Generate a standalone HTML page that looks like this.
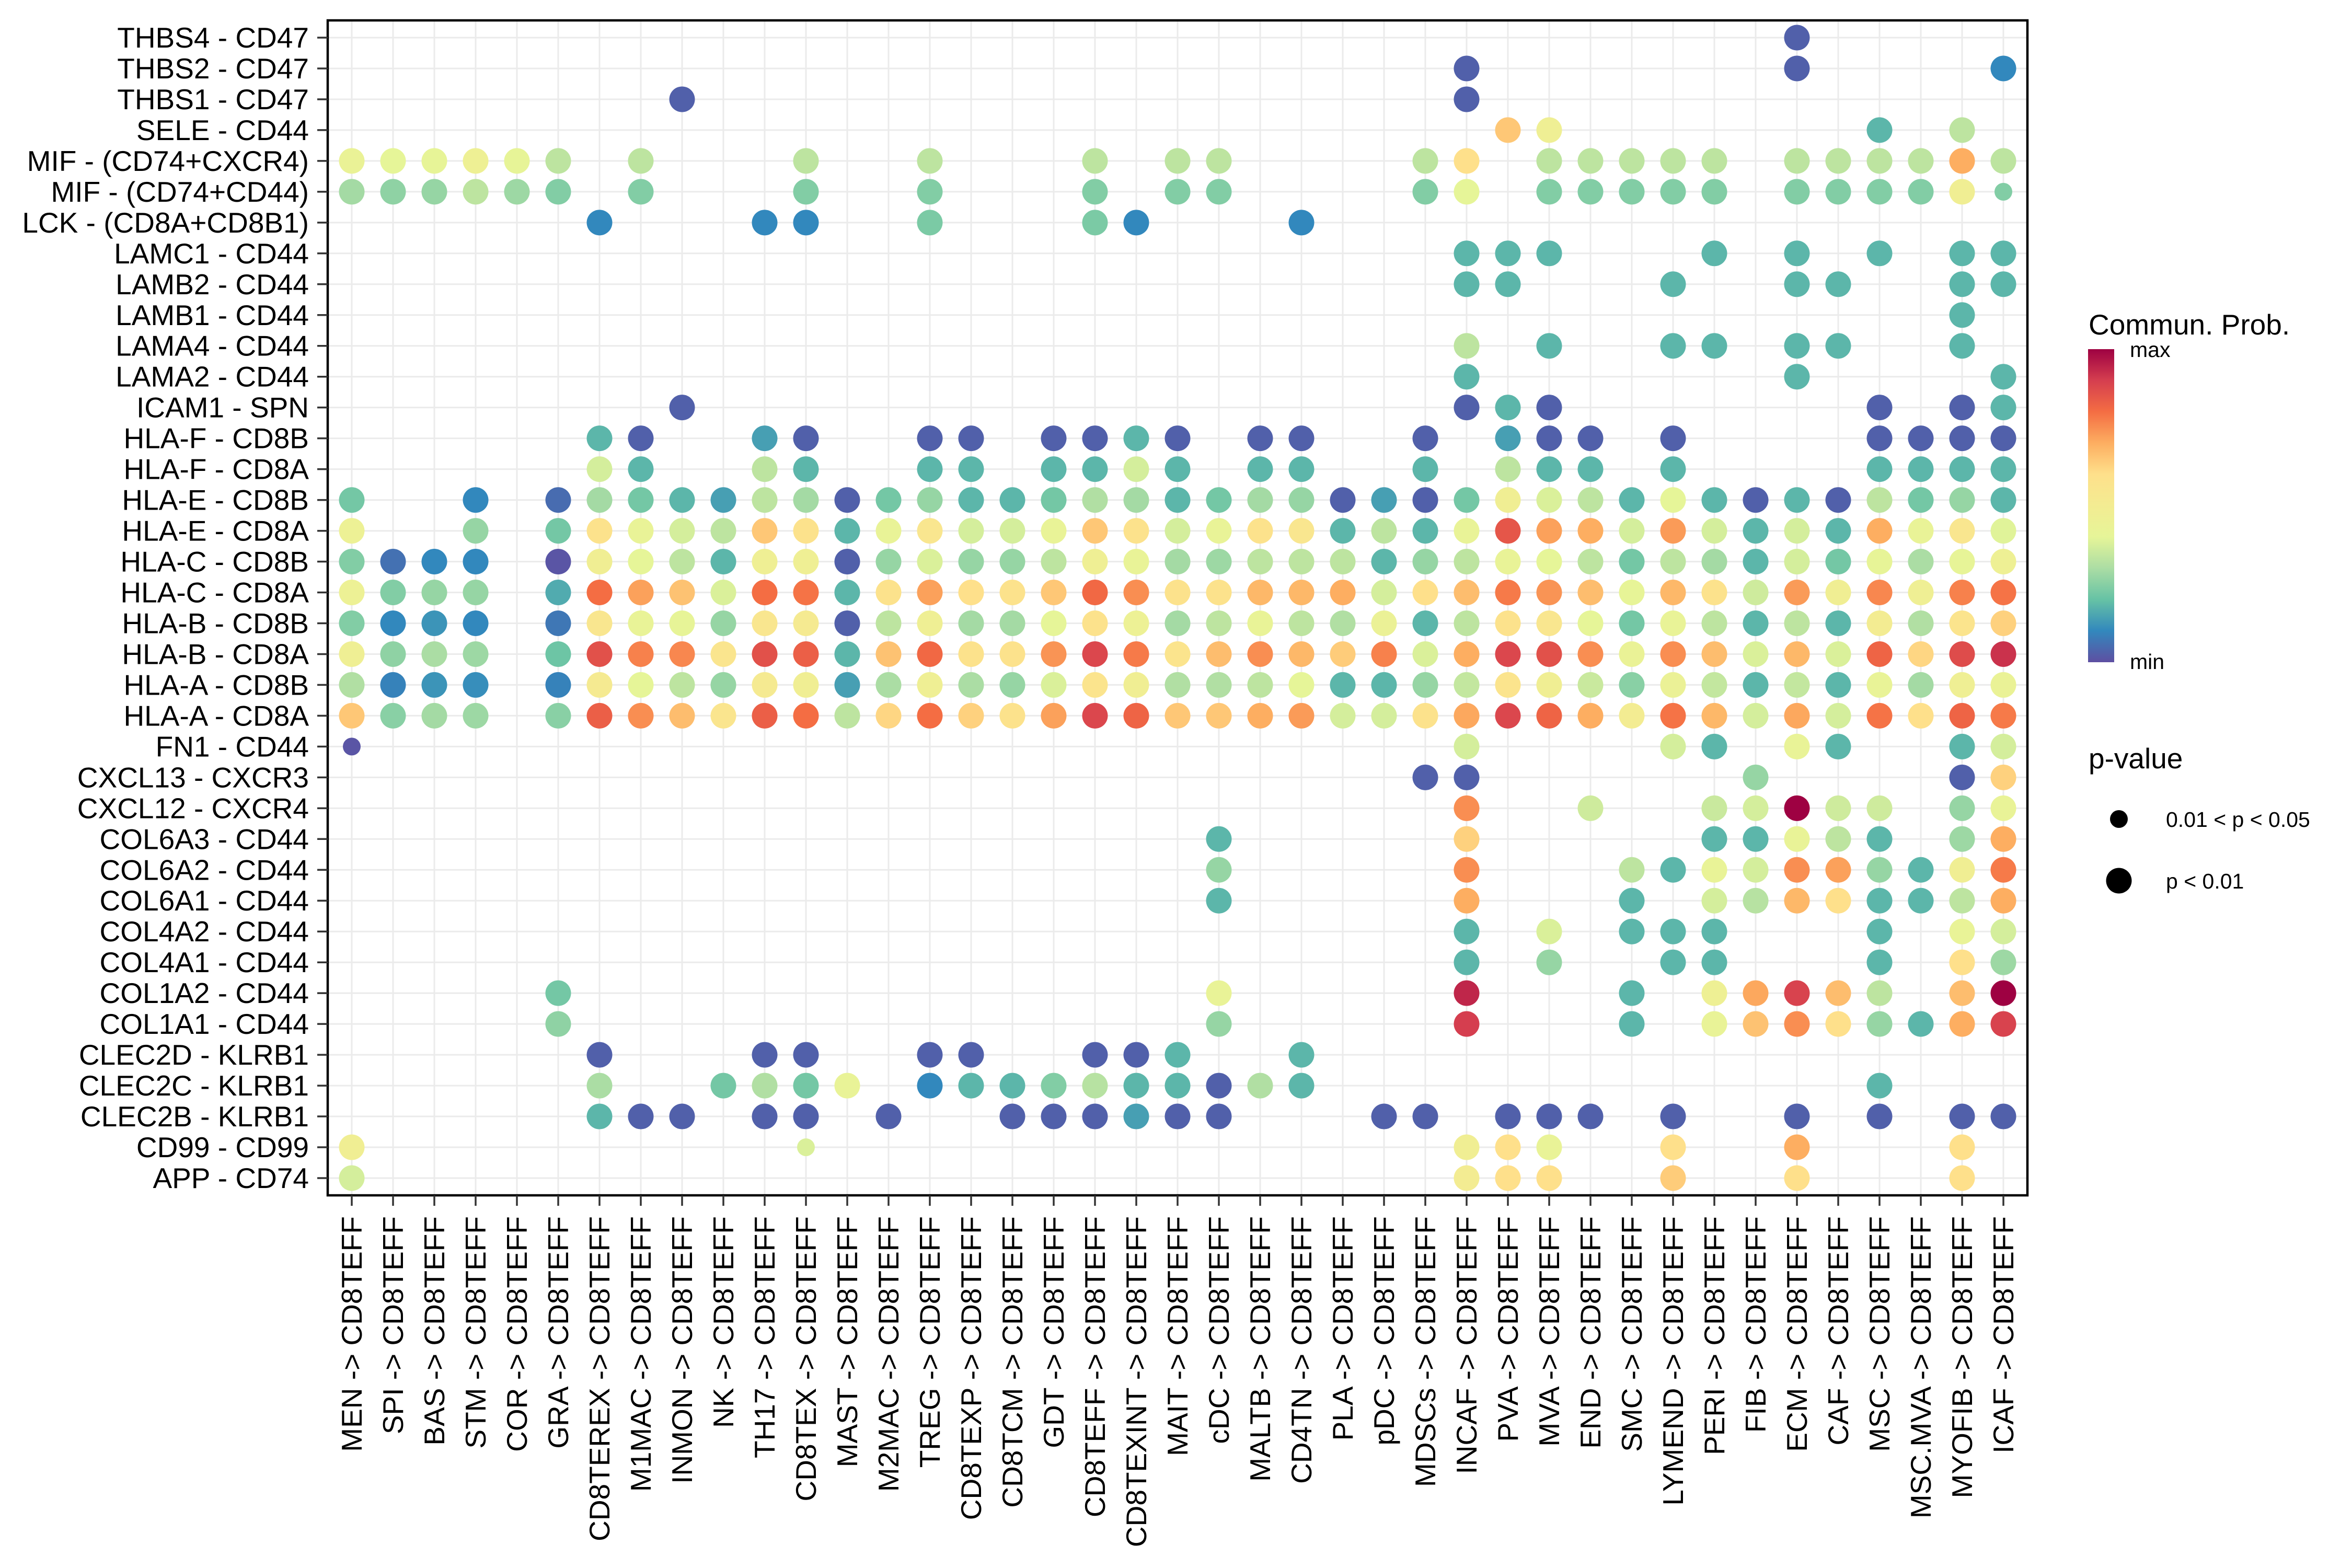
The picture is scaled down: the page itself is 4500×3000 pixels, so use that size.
<!DOCTYPE html>
<html><head><meta charset="utf-8"><style>
html,body{margin:0;padding:0;background:#fff;}
svg{display:block;font-family:"Liberation Sans",Arial,sans-serif;}
</style></head><body>
<svg id="chart" width="4500" height="3000" viewBox="0 0 4500 3000" xmlns="http://www.w3.org/2000/svg">
<defs>
<linearGradient id="cbar" x1="0" y1="1" x2="0" y2="0">
<stop offset="0" stop-color="#5E4FA2"/><stop offset="0.1" stop-color="#3288BD"/><stop offset="0.2" stop-color="#66C2A5"/><stop offset="0.3" stop-color="#ABDDA4"/><stop offset="0.4" stop-color="#E6F598"/><stop offset="0.5" stop-color="#F3EC92"/><stop offset="0.6" stop-color="#FEE08B"/><stop offset="0.7" stop-color="#FDAE61"/><stop offset="0.8" stop-color="#F46D43"/><stop offset="0.9" stop-color="#D53E4F"/><stop offset="1" stop-color="#9E0142"/>
</linearGradient>
</defs>
<rect x="627" y="39" width="3252" height="2248" fill="#fff"/>
<g id="grid"></g>
<g id="dots"></g>
<rect x="627" y="39" width="3252" height="2248" fill="none" stroke="#000" stroke-width="4.5"/>
<g id="yaxis"></g>
<g id="xaxis"></g>
<g>
<text x="3996" y="640" font-size="55">Commun. Prob.</text>
<rect x="3995" y="668" width="50" height="599" fill="url(#cbar)"/>
<text x="4075" y="683" font-size="41">max</text>
<text x="4075" y="1280" font-size="41">min</text>
</g>
<g>
<text x="3996" y="1470" font-size="55">p-value</text>
<circle cx="4054" cy="1567" r="17" fill="#000"/>
<text x="4144" y="1582" font-size="41">0.01 &lt; p &lt; 0.05</text>
<circle cx="4054" cy="1685" r="24.5" fill="#000"/>
<text x="4144" y="1700" font-size="41">p &lt; 0.01</text>
</g>
</svg>
<script>
const sources = ["MEN","SPI","BAS","STM","COR","GRA","CD8TEREX","M1MAC","INMON","NK","TH17","CD8TEX","MAST","M2MAC","TREG","CD8TEXP","CD8TCM","GDT","CD8TEFF","CD8TEXINT","MAIT","cDC","MALTB","CD4TN","PLA","pDC","MDSCs","INCAF","PVA","MVA","END","SMC","LYMEND","PERI","FIB","ECM","CAF","MSC","MSC.MVA","MYOFIB","ICAF"];
const pairs = ["THBS4 - CD47","THBS2 - CD47","THBS1 - CD47","SELE - CD44","MIF - (CD74+CXCR4)","MIF - (CD74+CD44)","LCK - (CD8A+CD8B1)","LAMC1 - CD44","LAMB2 - CD44","LAMB1 - CD44","LAMA4 - CD44","LAMA2 - CD44","ICAM1 - SPN","HLA-F - CD8B","HLA-F - CD8A","HLA-E - CD8B","HLA-E - CD8A","HLA-C - CD8B","HLA-C - CD8A","HLA-B - CD8B","HLA-B - CD8A","HLA-A - CD8B","HLA-A - CD8A","FN1 - CD44","CXCL13 - CXCR3","CXCL12 - CXCR4","COL6A3 - CD44","COL6A2 - CD44","COL6A1 - CD44","COL4A2 - CD44","COL4A1 - CD44","COL1A2 - CD44","COL1A1 - CD44","CLEC2D - KLRB1","CLEC2C - KLRB1","CLEC2B - KLRB1","CD99 - CD99","APP - CD74"];
// sparse values per row: [colIndex, prob(0-100)]
const row0 = [[35,3]];
const row1 = [[27,3],[35,3],[40,10]];
const row2 = [[8,3],[27,3]];
const row3 = [[28,65],[29,47],[37,18],[39,33]];
const row4 = [[0,43],[1,40],[2,41],[3,46],[4,41],[5,33],[7,33],[11,33],[14,33],[18,33],[20,33],[21,33],[26,33],[27,60],[29,33],[30,33],[31,33],[32,33],[33,33],[35,33],[36,33],[37,33],[38,33],[39,70],[40,33]];
const row5 = [[0,29],[1,26],[2,27],[3,33],[4,28],[5,24],[7,24],[11,24],[14,24],[18,24],[20,24],[21,24],[26,24],[27,40],[29,24],[30,24],[31,24],[32,24],[33,24],[35,24],[36,24],[37,24],[38,24],[39,48],[40,24]];
const row6 = [[6,10],[10,10],[11,10],[14,23],[18,23],[19,10],[23,10]];
const row7 = [[27,18],[28,18],[29,18],[33,18],[35,18],[37,18],[39,18],[40,18]];
const row8 = [[27,18],[28,18],[32,18],[35,18],[36,18],[39,18],[40,18]];
const row9 = [[39,18]];
const row10 = [[27,33],[29,18],[32,18],[33,18],[35,18],[36,18],[39,18]];
const row11 = [[27,18],[35,18],[40,18]];
const row12 = [[8,3],[27,3],[28,18],[29,3],[37,3],[39,3],[40,18]];
const row13 = [[6,18],[7,3],[10,14],[11,3],[14,3],[15,3],[17,3],[18,3],[19,18],[20,3],[22,3],[23,3],[26,3],[28,14],[29,3],[30,3],[32,3],[37,3],[38,3],[39,3],[40,3]];
const row14 = [[6,37],[7,18],[10,33],[11,18],[14,18],[15,18],[17,18],[18,18],[19,37],[20,18],[22,18],[23,18],[26,18],[28,33],[29,18],[30,18],[32,18],[37,18],[38,18],[39,18],[40,18]];
const row15 = [[0,22],[3,10],[5,5],[6,29],[7,22],[8,18],[9,14],[10,33],[11,29],[12,3],[13,22],[14,27],[15,18],[16,18],[17,22],[18,31],[19,29],[20,18],[21,22],[22,29],[23,27],[24,3],[25,14],[26,3],[27,22],[28,48],[29,38],[30,33],[31,18],[32,40],[33,18],[34,3],[35,18],[36,3],[37,33],[38,22],[39,27],[40,18]];
const row16 = [[0,45],[3,27],[5,22],[6,58],[7,42],[8,37],[9,33],[10,65],[11,58],[12,18],[13,42],[14,55],[15,37],[16,37],[17,42],[18,65],[19,58],[20,37],[21,42],[22,58],[23,55],[24,18],[25,33],[26,18],[27,42],[28,85],[29,72],[30,70],[31,37],[32,73],[33,37],[34,18],[35,37],[36,18],[37,70],[38,42],[39,55],[40,39]];
const row17 = [[0,24],[1,6],[2,10],[3,10],[5,1],[6,48],[7,40],[8,33],[9,18],[10,47],[11,47],[12,3],[13,27],[14,38],[15,27],[16,27],[17,33],[18,47],[19,42],[20,29],[21,28],[22,33],[23,33],[24,33],[25,18],[26,27],[27,33],[28,42],[29,40],[30,33],[31,22],[32,33],[33,29],[34,18],[35,37],[36,22],[37,41],[38,30],[39,41],[40,46]];
const row18 = [[0,45],[1,24],[2,27],[3,27],[5,16],[6,80],[7,72],[8,66],[9,38],[10,80],[11,79],[12,18],[13,58],[14,72],[15,60],[16,58],[17,65],[18,81],[19,75],[20,58],[21,58],[22,68],[23,68],[24,70],[25,37],[26,60],[27,67],[28,78],[29,74],[30,67],[31,41],[32,68],[33,58],[34,36],[35,73],[36,48],[37,76],[38,47],[39,77],[40,79]];
const row19 = [[0,24],[1,10],[2,12],[3,10],[5,7],[6,55],[7,42],[8,41],[9,27],[10,55],[11,52],[12,3],[13,33],[14,47],[15,29],[16,29],[17,40],[18,58],[19,45],[20,29],[21,33],[22,42],[23,33],[24,31],[25,44],[26,18],[27,33],[28,58],[29,55],[30,40],[31,22],[32,42],[33,33],[34,18],[35,33],[36,18],[37,50],[38,31],[39,57],[40,63]];
const row20 = [[0,47],[1,26],[2,30],[3,28],[5,21],[6,86],[7,77],[8,76],[9,56],[10,86],[11,83],[12,18],[13,66],[14,81],[15,58],[16,58],[17,74],[18,88],[19,78],[20,57],[21,67],[22,75],[23,68],[24,64],[25,77],[26,38],[27,70],[28,88],[29,86],[30,75],[31,43],[32,75],[33,67],[34,38],[35,68],[36,38],[37,82],[38,62],[39,87],[40,92]];
const row21 = [[0,31],[1,9],[2,12],[3,11],[5,9],[6,52],[7,40],[8,33],[9,27],[10,52],[11,48],[12,14],[13,30],[14,47],[15,30],[16,27],[17,38],[18,57],[19,48],[20,31],[21,31],[22,33],[23,40],[24,18],[25,18],[26,27],[27,34],[28,57],[29,48],[30,35],[31,25],[32,44],[33,34],[34,18],[35,34],[36,18],[37,42],[38,29],[39,47],[40,43]];
const row22 = [[0,65],[1,25],[2,29],[3,28],[5,25],[6,83],[7,75],[8,67],[9,56],[10,83],[11,80],[12,33],[13,62],[14,80],[15,63],[16,58],[17,72],[18,88],[19,82],[20,65],[21,65],[22,70],[23,73],[24,37],[25,37],[26,58],[27,71],[28,88],[29,82],[30,70],[31,50],[32,79],[33,68],[34,37],[35,71],[36,37],[37,79],[38,60],[39,82],[40,78]];
const row23 = [[0,1],[27,37],[32,37],[33,18],[35,42],[36,18],[39,18],[40,37]];
const row24 = [[26,3],[27,3],[34,27],[39,3],[40,63]];
const row25 = [[27,75],[30,36],[33,35],[34,37],[35,100],[36,36],[37,36],[39,27],[40,42]];
const row26 = [[21,18],[27,63],[33,18],[34,18],[35,42],[36,33],[37,18],[39,28],[40,70]];
const row27 = [[21,27],[27,75],[31,33],[32,18],[33,42],[34,37],[35,75],[36,72],[37,27],[38,18],[39,48],[40,78]];
const row28 = [[21,18],[27,70],[31,18],[33,37],[34,32],[35,68],[36,60],[37,18],[38,18],[39,33],[40,70]];
const row29 = [[27,18],[29,38],[31,18],[32,18],[33,18],[37,18],[39,42],[40,37]];
const row30 = [[27,18],[29,27],[32,18],[33,18],[37,18],[39,60],[40,28]];
const row31 = [[5,22],[21,42],[27,94],[31,18],[33,46],[34,71],[35,89],[36,67],[37,33],[39,67],[40,100]];
const row32 = [[5,26],[21,27],[27,90],[31,18],[33,42],[34,66],[35,75],[36,60],[37,27],[38,18],[39,70],[40,89]];
const row33 = [[6,3],[10,3],[11,3],[14,3],[15,3],[18,3],[19,3],[20,18],[23,18]];
const row34 = [[6,30],[9,22],[10,31],[11,22],[12,42],[14,10],[15,18],[16,18],[17,24],[18,32],[19,18],[20,18],[21,3],[22,31],[23,18],[37,18]];
const row35 = [[6,18],[7,3],[8,3],[10,3],[11,3],[13,3],[16,3],[17,3],[18,3],[19,14],[20,3],[21,3],[25,3],[26,3],[28,3],[29,3],[30,3],[32,3],[35,3],[37,3],[39,3],[40,3]];
const row36 = [[0,48],[11,38],[27,48],[28,60],[29,42],[32,60],[35,70],[39,60]];
const row37 = [[0,37],[27,50],[28,60],[29,60],[32,64],[35,60],[39,60]];
const probRows = [row0,row1,row2,row3,row4,row5,row6,row7,row8,row9,row10,row11,row12,row13,row14,row15,row16,row17,row18,row19,row20,row21,row22,row23,row24,row25,row26,row27,row28,row29,row30,row31,row32,row33,row34,row35,row36,row37];
// cells with 0.01 < p < 0.05 (small dots): [row, col]
const weakP = [[5,40],[23,0],[36,11]];

const NS = "http://www.w3.org/2000/svg";
const X0 = 673, X1 = 3833, Y0 = 72, Y1 = 2254;
function xScale(i){ return X0 + i*(X1-X0)/(sources.length-1); }
function yScale(j){ return Y0 + j*(Y1-Y0)/(pairs.length-1); }
const stops = ["#5E4FA2","#3288BD","#66C2A5","#ABDDA4","#E6F598","#F3EC92","#FEE08B","#FDAE61","#F46D43","#D53E4F","#9E0142"];
function hex(c){ return [parseInt(c.slice(1,3),16),parseInt(c.slice(3,5),16),parseInt(c.slice(5,7),16)]; }
function colorScale(v){
  const t = Math.max(0,Math.min(1,v/100))*(stops.length-1);
  const i = Math.min(stops.length-2, Math.floor(t)), f = t-i;
  const a = hex(stops[i]), b = hex(stops[i+1]);
  return "rgb("+a.map((x,k)=>Math.round(x+(b[k]-x)*f)).join(",")+")";
}
function mk(tag, attrs, parent){
  const el = document.createElementNS(NS, tag);
  for (const k in attrs) el.setAttribute(k, attrs[k]);
  parent.appendChild(el);
  return el;
}
const grid = document.getElementById("grid");
sources.forEach((s,i)=>{
  const l = mk("line",{x1:xScale(i),x2:xScale(i),y1:39,y2:2287,stroke:"#EBEBEB","stroke-width":3},grid);
  
  
});
pairs.forEach((p,j)=>{
  const l = mk("line",{x1:627,x2:3879,y1:yScale(j),y2:yScale(j),stroke:"#EBEBEB","stroke-width":3},grid);
  
  
});
const ya = document.getElementById("yaxis");
pairs.forEach((p,j)=>{
  const t = mk("line",{x1:607,x2:627,y1:yScale(j),y2:yScale(j),stroke:"#333","stroke-width":3.5},ya);
  
  
  const tx = mk("text",{x:591,y:yScale(j),"text-anchor":"end","dominant-baseline":"central","font-size":55,fill:"#000"},ya);
  tx.textContent = p;
  
  
});
const xa = document.getElementById("xaxis");
sources.forEach((s,i)=>{
  const x = xScale(i);
  const t = mk("line",{x1:x,x2:x,y1:2287,y2:2307,stroke:"#333","stroke-width":3.5},xa);
  
  
  const tx = mk("text",{x:x,y:2327,"text-anchor":"end","dominant-baseline":"central","font-size":55,fill:"#000",transform:"rotate(-90 "+x+" 2327)"},xa);
  tx.textContent = s + " -> CD8TEFF";
  
  
});
const dots = document.getElementById("dots");
probRows.forEach((row,j)=>{
  row.forEach(([i,v])=>{
    const small = weakP.some(([r,c])=>r===j&&c===i);
    const c = mk("circle",{cx:xScale(i),cy:yScale(j),r:small?17:24.5,fill:colorScale(v)},dots);
    
    
  });
});
</script>
</body></html>
